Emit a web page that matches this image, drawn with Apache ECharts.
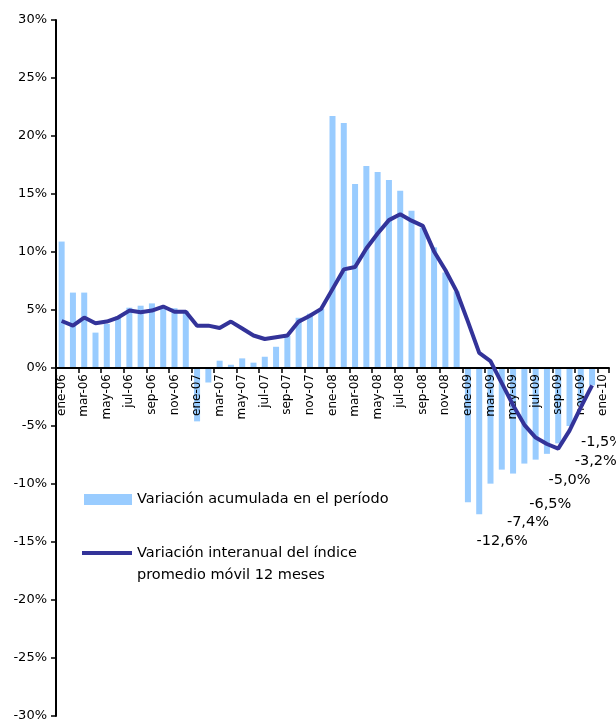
<!DOCTYPE html>
<html>
<head>
<meta charset="utf-8">
<script src="https://cdn.jsdelivr.net/npm/echarts@6/dist/echarts.min.js"></script>
<style>
  html, body { margin: 0; padding: 0; background: #fff; }
  #chart { width: 616px; height: 721px; }
</style>
</head>
<body>
<div id="chart"></div>
<script>
const months = [
  "ene-06", "feb-06", "mar-06", "abr-06", "may-06", "jun-06", "jul-06", "ago-06", "sep-06", "oct-06", "nov-06", "dic-06",
  "ene-07", "feb-07", "mar-07", "abr-07", "may-07", "jun-07", "jul-07", "ago-07", "sep-07", "oct-07", "nov-07", "dic-07",
  "ene-08", "feb-08", "mar-08", "abr-08", "may-08", "jun-08", "jul-08", "ago-08", "sep-08", "oct-08", "nov-08", "dic-08",
  "ene-09", "feb-09", "mar-09", "abr-09", "may-09", "jun-09", "jul-09", "ago-09", "sep-09", "oct-09", "nov-09", "dic-09",
  "ene-10",
];

// variación acumulada en el período (%)
const acumulada = [
  10.9, 6.5, 6.5, 3.05, 3.8, 4.45, 5.2, 5.37, 5.57, 5.17, 5.15, 4.9,
  -4.6, -1.25, 0.63, 0.28, 0.83, 0.46, 0.97, 1.83, 2.78, 4.33, 4.68, 5.1,
  21.73, 21.13, 15.87, 17.42, 16.9, 16.2, 15.27, 13.55, 12.1, 10.4, 8.23, 6.6,
  -11.58, -12.6, -9.97, -8.76, -9.1, -8.24, -7.9, -7.4, -6.5, -5.0, -3.2, -1.5,
  null,
];

// variación interanual del índice, promedio móvil 12 meses (%)
const interanual = [
  4.05, 3.65, 4.35, 3.85, 4.0, 4.35, 4.95, 4.8, 4.95, 5.3, 4.85, 4.85,
  3.65, 3.65, 3.45, 4.0, 3.4, 2.8, 2.5, 2.65, 2.8, 4.0, 4.5, 5.1,
  6.8, 8.5, 8.7, 10.3, 11.6, 12.75, 13.25, 12.7, 12.25, 10.05, 8.45, 6.6,
  4.0, 1.3, 0.6, -1.3, -3.2, -4.9, -6.0, -6.55, -6.95, -5.4, -3.4, -1.5,
  null,
];

// etiquetas escritas sobre algunas barras
const notaMeses = ["feb-09", "ago-09", "sep-09", "oct-09", "nov-09", "dic-09"];
const notaTextos = ["-12,6%", "-7,4%", "-6,5%", "-5,0%", "-3,2%", "-1,5%"];
const notaOffsets = [[23, 20], [-19, 61], [-8, 53], [0, 47], [15, 49], [10, 49]];

const nombreBarras = "Variación acumulada en el período";
const nombreLinea = "Variación interanual del índice\npromedio móvil 12 meses";

const FONT = "DejaVu Sans";

const barData = acumulada.map((v, i) => {
  const k = notaMeses.indexOf(months[i]);
  if (k < 0) return v;
  return {
    value: v,
    label: {
      show: true,
      position: "bottom",
      distance: 0,
      offset: notaOffsets[k],
      formatter: notaTextos[k],
      fontFamily: FONT,
      fontSize: 14.5,
      color: "#000",
    },
  };
});

const chart = echarts.init(document.getElementById("chart"));

// grid: 20px arriba, 5px abajo -> el cero queda a la mitad del alto
const gridTop = 20;
const gridBottom = 5;
const plotH = 721 - gridTop - gridBottom;

const option = {
  animation: false,
  backgroundColor: "#fff",
  grid: { left: 56, right: 7, top: gridTop, bottom: gridBottom, outerBoundsMode: "none" },
  legend: [
    {
      data: [nombreBarras],
      left: 84,
      top: 492,
      padding: 0,
      selectedMode: false,
      icon: "rect",
      itemWidth: 48,
      itemHeight: 11,
      textStyle: { fontFamily: FONT, fontSize: 14.5, color: "#000" },
    },
    {
      data: [{ name: nombreLinea, icon: "rect" }],
      left: 82,
      top: 520,
      padding: 0,
      selectedMode: false,
      itemWidth: 50,
      itemHeight: 4,
      formatter: (name) => "\n" + name,
      textStyle: {
        fontFamily: FONT,
        fontSize: 14.5,
        lineHeight: 22,
        color: "#000",
      },
    },
  ],
  xAxis: {
    type: "category",
    data: months,
    z: 3,
    position: "bottom",
    offset: -plotH / 2,
    axisLine: { onZero: false, lineStyle: { color: "#000", width: 2 } },
    axisTick: { show: true, interval: 1, length: 5, lineStyle: { color: "#000", width: 1.5 } },
    axisLabel: {
      interval: 1,
      rotate: 90,
      margin: 6,
      fontFamily: FONT,
      fontSize: 12,
      color: "#000",
    },
    splitLine: { show: false },
  },
  yAxis: {
    type: "value",
    min: -30,
    max: 30,
    interval: 5,
    axisLine: { show: true, lineStyle: { color: "#000", width: 2 } },
    axisTick: { show: true, length: 5, lineStyle: { color: "#000", width: 1.5 } },
    axisLabel: {
      margin: 9,
      formatter: (v) => v + "%",
      fontFamily: FONT,
      fontSize: 13,
      color: "#000",
    },
    splitLine: { show: false },
  },
  series: [
    {
      name: nombreBarras,
      type: "bar",
      data: barData,
      barWidth: 6,
      z: 2,
      itemStyle: { color: "#99CCFF" },
    },
    {
      name: nombreLinea,
      type: "line",
      data: interanual,
      z: 4,
      symbol: "none",
      lineStyle: { color: "#333399", width: 4 },
      itemStyle: { color: "#333399" },
    },
  ],
};

chart.setOption(option);
</script>
</body>
</html>
